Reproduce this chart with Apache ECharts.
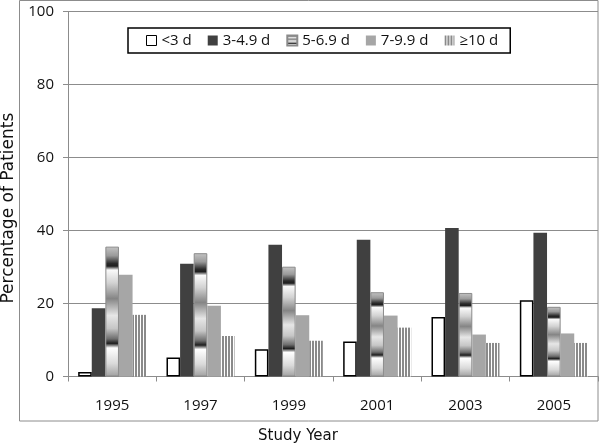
<!DOCTYPE html>
<html>
<head>
<meta charset="utf-8">
<script src="https://cdn.jsdelivr.net/npm/echarts@6/dist/echarts.min.js"></script>
<style>html,body{margin:0;padding:0;background:#fff;}#c{width:600px;height:447px;}</style>
</head>
<body>
<div id="c"></div>
<script>
var years = ['1995', '1997', '1999', '2001', '2003', '2005'];
var seriesNames = ['<3 d', '3-4.9 d', '5-6.9 d', '7-9.9 d', '\u226510 d'];
var lt3 = [1.2, 5.2, 7.5, 9.6, 16.3, 20.9];
var d3to5 = [18.7, 30.9, 36.1, 37.5, 40.7, 39.4];
var d5to7 = [35.6, 33.8, 30.1, 23.1, 22.9, 19.1];
var d7to10 = [27.9, 19.4, 16.8, 16.7, 11.5, 11.8];
var ge10 = [16.9, 11.1, 9.8, 13.4, 9.2, 9.2];
var yTicks = [0, 20, 40, 60, 80, 100];

var FONT = '"Open Sans", sans-serif';
var TITLE_FONT = '"DejaVu Sans", sans-serif';

// vertical stripe pattern for >=10 d
var stripe = document.createElement('canvas');
stripe.width = 3; stripe.height = 10;
var sctx = stripe.getContext('2d');
sctx.fillStyle = '#ffffff'; sctx.fillRect(0, 0, 3, 10);
sctx.fillStyle = '#8a8a8a'; sctx.fillRect(0, 0, 2, 10);

var chrome = {
  type: 'linear', x: 0, y: 0, x2: 0, y2: 1,
  colorStops: [
    {offset: 0.00, color: '#c4c4c4'},
    {offset: 0.07, color: '#9a9a9a'},
    {offset: 0.13, color: '#2a2a2a'},
    {offset: 0.15, color: '#1e1e1e'},
    {offset: 0.18, color: '#fafafa'},
    {offset: 0.28, color: '#d2d2d2'},
    {offset: 0.40, color: '#858585'},
    {offset: 0.53, color: '#e6e6e6'},
    {offset: 0.63, color: '#c6c6c6'},
    {offset: 0.71, color: '#6e6e6e'},
    {offset: 0.745, color: '#1e1e1e'},
    {offset: 0.78, color: '#ffffff'},
    {offset: 0.90, color: '#dadada'},
    {offset: 1.00, color: '#a0a0a0'}
  ]
};

var styles = [
  {color: '#ffffff', borderColor: '#000000', borderWidth: 1.5},
  {color: '#404040'},
  {color: chrome, borderColor: '#8a8a8a', borderWidth: 1},
  {color: '#a6a6a6'},
  {color: {image: stripe, repeat: 'repeat'}}
];
var values = [lt3, d3to5, d5to7, d7to10, ge10];

var series = seriesNames.map(function (n, i) {
  return {
    name: n, type: 'bar', data: values[i],
    barGap: '0%', barCategoryGap: '23%',
    itemStyle: styles[i]
  };
});

var legendData = seriesNames.map(function (n, i) {
  return i === 0 ? {name: n, itemStyle: {borderWidth: 1}} : {name: n};
});

var chart = echarts.init(document.getElementById('c'), null, {renderer: 'canvas'});
chart.setOption({
  animation: false,
  backgroundColor: '#ffffff',
  textStyle: {fontFamily: FONT},
  grid: {left: 68, right: 2, top: 11.7, bottom: 70.5, containLabel: false, outerBoundsMode: 'none'},
  legend: {
    left: 128, top: 28,
    padding: [5, 12, 5, 18],
    borderColor: '#000', borderWidth: 1.5,
    itemWidth: 10, itemHeight: 10, itemGap: 16, itemTextGap: 3,
    icon: 'rect',
    textStyle: {fontFamily: FONT, fontSize: 15, color: '#111'},
    data: legendData
  },
  graphic: [
    {type: 'rect', shape: {x: 19.5, y: 0.5, width: 578.5, height: 420.5},
     style: {fill: 'none', stroke: '#8c8c8c', lineWidth: 1}, silent: true, z: -1}
  ],
  xAxis: {
    type: 'category', data: years,
    boundaryGap: true,
    name: 'Study Year', nameLocation: 'middle', nameGap: 52,
    nameTextStyle: {fontFamily: TITLE_FONT, fontSize: 15, color: '#111', padding: [0, 70, 0, 0]},
    axisLine: {lineStyle: {color: '#8c8c8c', width: 1}},
    axisTick: {show: true, length: 5, alignWithLabel: false, lineStyle: {color: '#8c8c8c'}},
    axisLabel: {fontFamily: FONT, fontSize: 15, color: '#111', margin: 22},
    splitLine: {show: false}
  },
  yAxis: {
    type: 'value', min: 0, max: 100, interval: 20,
    name: 'Percentage of Patients', nameLocation: 'middle', nameGap: 51,
    nameRotate: 90,
    nameTextStyle: {fontFamily: TITLE_FONT, fontSize: 17, color: '#111', padding: [0, 28, 0, 0]},
    axisLine: {show: true, lineStyle: {color: '#8c8c8c', width: 1}},
    axisTick: {show: true, length: 5, inside: false, lineStyle: {color: '#8c8c8c'}},
    axisLabel: {fontFamily: FONT, fontSize: 15, color: '#111', margin: 14,
      formatter: function (v) { return yTicks.indexOf(v) >= 0 ? String(v) : ''; }},
    splitLine: {show: true, lineStyle: {color: '#8c8c8c', width: 1}}
  },
  series: series
});
</script>
</body>
</html>
